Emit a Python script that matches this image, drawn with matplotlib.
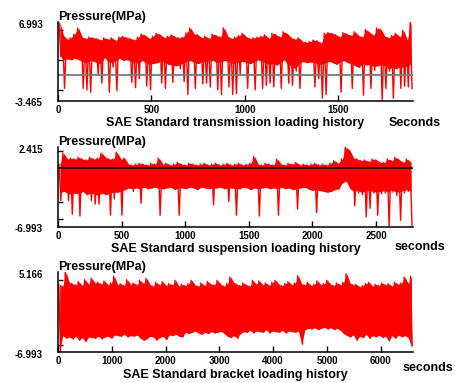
import matplotlib
matplotlib.use('Agg')
import matplotlib.pyplot as plt
import numpy as np

plt.rcParams['font.family'] = ['Liberation Sans', 'DejaVu Sans']
plt.rcParams['font.weight'] = 'bold'

# ---------------- data (per-bin max / min / solid-band floor) ----------------
trans_bin_s = 20
trans_max = [7.0, 5.2, 4.7, 4.9, 5.4, 6.2, 5.0, 4.8, 5.0, 4.9, 4.8, 4.6, 4.9, 4.7, 4.9, 4.5,
             5.0, 5.1, 4.9, 4.8, 4.6, 5.0, 5.4, 5.2, 4.8, 5.1, 5.5, 5.3, 4.9, 5.1, 5.3, 5.0,
             4.9, 5.0, 5.6, 6.2, 5.4, 5.3, 4.9, 5.1, 4.8, 5.4, 5.2, 5.0, 6.2, 5.1, 4.8, 5.0,
             5.2, 5.5, 5.0, 4.8, 4.9, 5.0, 5.1, 5.3, 4.8, 5.5, 5.3, 5.0, 5.7, 5.4, 4.9, 4.7,
             4.9, 4.4, 4.3, 4.4, 4.6, 4.5, 4.2, 5.5, 5.6, 5.5, 5.3, 5.0, 5.6, 5.4, 5.2, 5.7,
             5.2, 5.0, 6.0, 5.6, 5.2, 6.2, 6.0, 5.1, 4.9, 5.2, 5.5, 5.0, 5.9, 4.6, 7.0]
trans_min = [2.5, -1.8, 2.1, 2.0, 2.2, 2.0, -1.8, -2.0, -2.3, 1.8, 0.0, -1.1, 2.3, -2.3, 1.0, -2.1,
             2.2, 1.9, 2.0, -1.0, -1.7, -0.5, 1.9, -1.5, -2.0, 1.5, 1.6, -1.1, -1.8, 1.4, -1.0, 1.2,
             0.8, -0.9, -2.6, 1.9, -1.8, 1.5, -1.2, -1.1, -1.6, 1.9, -2.0, -2.6, 1.9, -1.6, -2.6, -2.5,
             0.0, 1.8, -1.8, 1.5, -2.0, 2.0, -1.8, -1.4, -1.1, -1.6, 1.3, -1.8, 2.0, -1.1, -1.4, 0.5,
             -1.8, 1.8, 1.6, 1.7, -1.6, -0.5, -3.1, -2.6, 1.8, 1.6, 1.4, -2.3, 1.9, 1.6, -1.8, 1.2,
             1.0, -2.7, 1.3, -1.8, 0.6, 1.2, -3.4, -1.8, 0.5, -3.1, 0.8, -1.8, -1.5, -1.6, -1.8]
trans_floor = [2.5, 2.0, 2.1, 2.0, 2.2, 2.0, 1.8, 1.6, 1.9, 1.8, 1.6, 1.5, 2.3, 1.7, 1.6, 1.9,
               2.2, 1.9, 2.0, 1.8, 1.7, 1.5, 1.9, 1.6, 1.4, 1.5, 1.6, 1.8, 1.7, 1.4, 1.3, 1.2,
               1.3, 1.6, 1.8, 1.9, 1.6, 1.5, 1.7, 1.8, 1.9, 1.9, 1.6, 1.7, 1.9, 1.8, 1.5, 1.6,
               1.7, 1.8, 1.6, 1.5, 1.7, 2.0, 1.8, 1.6, 1.4, 1.5, 1.3, 1.6, 2.0, 1.4, 1.2, 0.8,
               1.5, 1.8, 1.6, 1.7, 1.6, 1.5, 1.4, 1.6, 1.8, 1.6, 1.4, 1.7, 1.9, 1.6, 1.5, 1.2,
               1.0, 1.5, 1.3, 1.4, 1.1, 1.2, 1.3, 1.2, 0.8, 1.0, 0.8, 1.1, 1.0, 1.2, 1.5]
trans_ylim = (-3.465, 6.993)
trans_xticks = [0, 500, 1000, 1500]

susp_bin_s = 30
susp_max = [0.4, 1.7, 1.0, 1.1, 1.0, 1.2, 1.0, 0.9, 1.2, 1.0, 1.1, 1.7, 1.2, 1.0, 1.0, 1.8, 1.0, 1.1,
            0.4, 0.3, 0.4, 0.5, 0.4, 0.3, 0.5, 0.4, 1.1, 0.4, 0.5, 0.3, 0.4, 0.6, 0.4, 0.3, 0.5, 0.4,
            0.3, 0.4, 0.5, 0.3, 0.4, 0.5, 0.3, 0.4, 0.5, 0.3, 0.4, 0.5, 0.3, 0.4, 0.5,
            1.3, 0.4, 0.3, 0.5, 0.4, 0.3, 1.0, 0.4, 0.3, 0.5, 0.4, 0.6, 0.3, 0.4, 0.3, 0.4, 0.5,
            0.3, 0.4, 0.3, 0.5, 0.8, 0.5,
            1.0, 2.4, 2.0, 1.1, 1.0, 0.8, 0.9, 0.7, 1.0, 0.9, 0.6, 0.6, 1.0, 0.8, 1.2, 0.9, 0.6, 1.0, 0.6]
susp_min = [-3.9, -2.8, -3.9, -5.5, -3.0, -5.7, -2.8, -3.2, -3.9, -4.3, -4.3, -3.0, -3.2, -5.6, -3.7,
            -2.9, -5.6, -2.6,
            -2.4, -2.8, -2.4, -4.2, -2.3, -2.5, -2.4, -2.3, -5.6, -2.5, -2.4, -2.3, -2.6, -5.6, -2.4,
            -2.5, -2.3, -2.4, -2.6, -2.3, -2.4, -2.5, -4.4, -2.4, -2.3, -2.5, -4.0, -2.4, -5.6, -2.5,
            -2.3, -2.4, -2.6,
            -2.4, -5.7, -2.4, -2.3, -2.5, -2.4, -5.6, -2.3, -2.5, -2.4, -2.6, -4.9, -2.4, -2.3, -2.5,
            -2.7, -5.3, -2.7, -2.8, -2.9, -2.8, -2.6, -2.5,
            -1.8, -1.6, -2.5, -4.5, -3.0, -3.2, -5.8, -4.8, -3.0, -5.6, -3.1, -3.0, -6.99, -2.9, -3.3,
            -6.2, -3.0, -2.8, -6.99]
susp_floor = [-3.0, -2.8, -3.0, -3.2, -3.0, -3.1, -2.8, -3.2, -3.0, -3.1, -3.3, -3.0, -3.2, -3.0,
              -2.9, -2.9, -2.8, -2.6,
              -2.4, -2.5, -2.4, -2.5, -2.3, -2.5, -2.4, -2.3, -2.5, -2.5, -2.4, -2.3, -2.6, -2.4,
              -2.4, -2.5, -2.3, -2.4, -2.6, -2.3, -2.4, -2.5, -2.4, -2.4, -2.3, -2.5, -2.4, -2.4,
              -2.5, -2.5, -2.3, -2.4, -2.6,
              -2.4, -2.5, -2.4, -2.3, -2.5, -2.4, -2.5, -2.3, -2.5, -2.4, -2.6, -2.5, -2.4, -2.3,
              -2.5, -2.7, -2.6, -2.7, -2.8, -2.9, -2.8, -2.6, -2.5,
              -1.8, -1.6, -2.5, -2.8, -2.7, -2.9, -2.8, -2.7, -2.8, -2.9, -2.8, -2.7, -2.9, -2.6,
              -2.9, -2.8, -2.7, -2.6, -2.8]
susp_ylim = (-6.993, 2.415)
susp_xticks = [0, 500, 1000, 1500, 2000, 2500]

brk_bin_s = 60
brk_max = [3.3, 3.0, 5.1, 3.6, 3.4, 3.2, 3.7, 3.1, 4.0, 3.3, 4.2, 3.5, 3.6, 3.3, 3.8, 3.2, 3.5, 4.5,
           3.2, 3.4, 3.1, 4.0, 3.3, 3.5, 3.2, 3.9, 3.4, 4.2, 3.3, 3.0, 3.6, 3.2, 3.7, 3.1, 3.4, 3.2,
           3.9, 3.0, 3.3, 3.1, 3.4, 3.9, 3.2, 3.0, 3.5, 3.1, 3.7, 3.3, 3.2, 3.9, 3.3, 3.0,
           3.4, 4.4, 3.6, 3.3, 3.1, 3.5, 3.2, 3.0, 3.9, 3.3, 3.8, 3.2, 3.5, 3.1, 3.6, 3.9, 3.3, 3.1,
           3.4, 3.7, 3.2, 3.5, 4.6, 3.4, 3.2, 3.6, 3.1, 3.3, 3.8, 3.2, 3.4, 3.9, 3.3, 3.1, 3.5, 3.2,
           3.6, 4.9, 3.5, 3.2, 3.3, 2.9, 3.1, 3.4, 3.6, 3.0, 3.3, 3.1, 3.5, 3.2, 3.4, 3.0, 3.6, 3.3,
           3.5, 4.4, 3.4, 4.5]
brk_min = [-6.9, -4.5, -4.9, -4.7, -5.0, -4.6, -5.2, -4.8, -5.4, -4.7, -4.8, -4.9, -4.6, -5.0, -4.7,
           -4.6, -4.9, -4.4, -4.5, -4.6, -4.3, -4.7, -4.5, -4.6, -4.4, -4.9, -5.2, -5.0, -4.6, -4.7,
           -5.2, -4.8, -4.6, -5.1, -4.4, -4.5, -4.3, -4.6, -4.7, -4.0, -4.2, -4.0, -3.8, -4.1, -4.3,
           -4.0, -4.2, -3.9, -4.1, -4.0, -3.8, -4.2,
           -4.6, -4.8, -4.5, -4.9, -4.2, -3.9, -4.0, -3.7, -4.1, -3.8, -3.9, -4.0, -3.6, -4.1, -3.8,
           -3.9, -4.0, -3.7, -4.1, -3.8, -3.9, -4.0, -3.8, -5.8, -3.6, -3.4, -3.5, -3.3, -3.6, -3.4,
           -3.2, -3.5, -3.3, -3.6, -3.4, -3.7, -4.2, -4.5, -4.7, -4.4, -5.2, -4.6, -4.8, -4.3, -4.9,
           -4.5, -4.7, -4.4, -4.8, -4.6, -5.3, -4.5, -4.9, -4.4, -4.7, -4.5, -4.8, -6.1]
brk_floor = brk_min
brk_ylim = (-6.993, 5.166)
brk_xticks = [0, 1000, 2000, 3000, 4000, 5000, 6000]

titles = ['SAE Standard transmission loading history',
          'SAE Standard suspension loading history',
          'SAE Standard bracket loading history']
unit_labels = ['Seconds', 'seconds', 'seconds']
ylabel = 'Pressure(MPa)'

# ---------------- figure ----------------
W, H = 455, 383
fig = plt.figure(figsize=(W / 100, H / 100), dpi=100)

def px_axes(left, top, right, bottom):
    return fig.add_axes([left / W, 1 - bottom / H, (right - left) / W, (bottom - top) / H])

panels = [
    dict(mx=trans_max, mn=trans_min, fl=trans_floor, w=trans_bin_s, ylim=trans_ylim,
         xticks=trans_xticks, minor=[-2, 2, 6], zc='#7a7a7a', zlw=1.3, box=(58, 22, 413, 101),
         lw=1.0, sec_xy=(389, 126), lab_base=126),
    dict(mx=susp_max, mn=susp_min, fl=susp_floor, w=susp_bin_s, ylim=susp_ylim,
         xticks=susp_xticks, minor=[2, -4, -6], zc='black', zlw=1.1, box=(58, 147, 413, 227),
         lw=1.0, sec_xy=(395, 250), lab_base=252),
    dict(mx=brk_max, mn=brk_min, fl=brk_floor, w=brk_bin_s, ylim=brk_ylim,
         xticks=brk_xticks, minor=[4, -6], zc=None, zlw=0, box=(58, 272, 413, 352),
         lw=1.0, sec_xy=(403, 371), lab_base=378),
]

RED = '#ff0000'
for i, p in enumerate(panels):
    ax = px_axes(*p['box'])
    n = len(p['mx'])
    # solid core of the dense signal: between per-bin max and the solid-band floor
    tc = (np.arange(n) + 0.5) * p['w']
    ax.fill_between(tc, p['mx'], p['fl'], color=RED, lw=0, zorder=2)
    # individual oscillations / spikes
    t = (np.arange(2 * n) + 0.5) * p['w'] / 2
    y = np.column_stack([p['mx'], p['mn']]).ravel()
    ax.plot(t, y, color=RED, lw=p['lw'], zorder=2)
    if p['zc'] is not None:
        ax.axhline(0, color=p['zc'], lw=p['zlw'], zorder=3)
    ax.set_xlim(0, n * p['w'])
    ax.set_ylim(*p['ylim'])
    for s in ['top', 'right']:
        ax.spines[s].set_visible(False)
    for s in ['left', 'bottom']:
        ax.spines[s].set_linewidth(1.1)
        ax.spines[s].set_zorder(4)
    ax.set_xticks(p['xticks'])
    ax.set_xticklabels([str(v) for v in p['xticks']], fontsize=7, fontweight='bold')
    ax.tick_params(axis='x', direction='in', length=4, width=1, pad=3)
    ax.set_yticks([])
    ax.set_yticks(p['minor'], minor=True)
    ax.tick_params(axis='y', which='minor', direction='in', length=3.5, width=1)
    for val in p['ylim']:
        ax.annotate(f'{val:.3f}', xy=(0, val), xycoords=('axes fraction', 'data'),
                    xytext=(-15, -2.5), textcoords='offset pixels',
                    ha='right', va='center', fontsize=7, fontweight='bold')
    left, top, right, bottom = p['box']
    fig.text(left / W, 1 - (top - 2) / H, ylabel, ha='left', va='baseline',
             fontsize=9, fontweight='bold')
    fig.text((left + right) / 2 / W, 1 - p['lab_base'] / H, titles[i], ha='center',
             va='baseline', fontsize=9, fontweight='bold')
    sx, sy = p['sec_xy']
    fig.text(sx / W, 1 - sy / H, unit_labels[i], ha='left', va='baseline',
             fontsize=9, fontweight='bold')

fig.savefig('out.png', dpi=100)
